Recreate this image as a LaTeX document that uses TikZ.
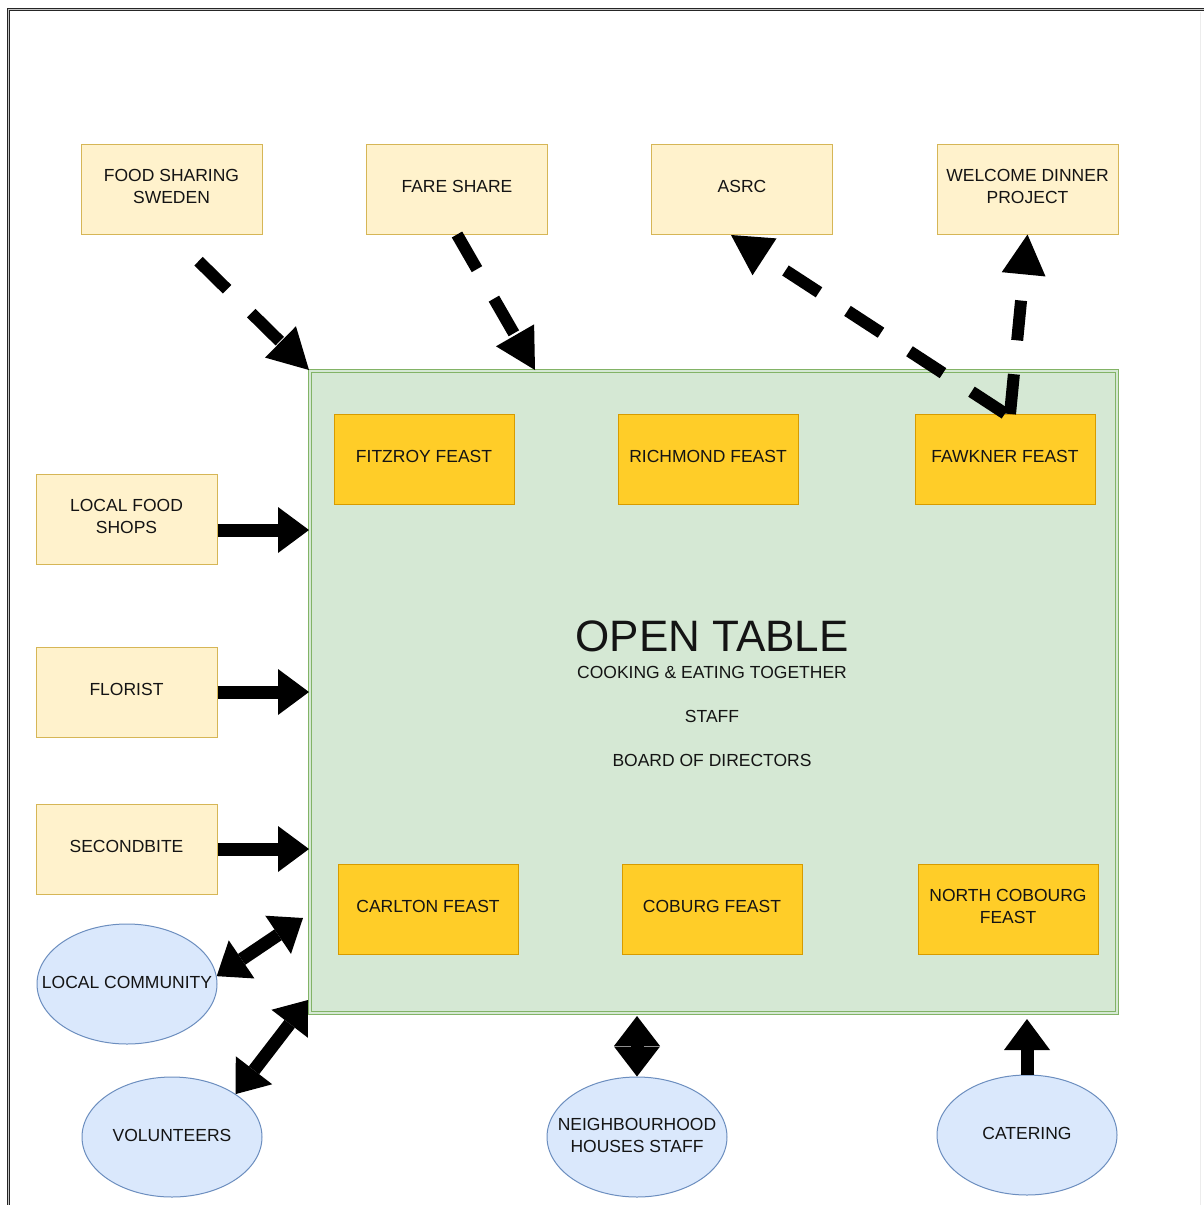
\documentclass[tikz,border=0pt]{standalone}
\usepackage{fontspec}
\setmainfont{Liberation Sans}
\usetikzlibrary{arrows.meta,shapes.geometric}
\definecolor{ylfill}{HTML}{FFF2CC}
\definecolor{yldraw}{HTML}{D6B656}
\definecolor{orfill}{HTML}{FFCD28}
\definecolor{ordraw}{HTML}{D79B00}
\definecolor{grfill}{HTML}{D5E8D4}
\definecolor{grdraw}{HTML}{82B366}
\definecolor{blfill}{HTML}{DAE8FC}
\definecolor{bldraw}{HTML}{6C8EBF}
\definecolor{txt}{HTML}{141414}
\begin{document}
\begin{tikzpicture}[x=1pt,y=-1pt,
  every node/.style={font=\fontsize{17.5}{22}\selectfont, text=txt, align=center},
  ybox/.style={draw=yldraw, fill=ylfill, minimum width=181pt, minimum height=90pt, inner sep=0pt, line width=1pt, text depth=5pt},
  obox/.style={draw=ordraw, fill=orfill, minimum width=180pt, minimum height=90pt, inner sep=0pt, line width=1pt, text depth=5pt},
  ell/.style={ellipse, draw=bldraw, fill=blfill, minimum width=180pt, minimum height=120pt, inner sep=0pt, line width=1pt},
  elltext/.style={text depth=4pt, inner sep=0pt},
  bigbox/.style={draw=grdraw, fill=grfill, double=grfill, double distance=2pt, line width=1pt, minimum width=807pt, minimum height=642pt, inner sep=0pt},
  dasharrow/.style={line width=12pt, black, dash pattern=on 40pt off 34pt, -{Triangle[length=40pt,width=44pt,line width=0pt]}},
  solarrow/.style={line width=13pt, black, -{Triangle[length=31pt,width=46pt,line width=0pt]}},
  dblarrow/.style={line width=13pt, black, {Triangle[length=30pt,width=46pt,line width=0pt]}-{Triangle[length=30pt,width=46pt,line width=0pt]}},
]
\useasboundingbox (0,0) rectangle (1203,1205);
\fill[white] (0,0) rectangle (1203,1205);
% frame
\draw[black!85, line width=0.8pt, double=gray!45, double distance=1.6pt] (8.5,1215) -- (8.5,9.5) -- (1215,9.5);
\draw[gray!15, line width=0.8pt] (1200,12) -- (1200,1205);

% outer boxes
\node[ybox] (fss) at (171.5,189) {FOOD SHARING\\SWEDEN};
\node[ybox] (fare) at (457,189) {FARE SHARE};
\node[ybox] (asrc) at (742,189) {ASRC};
\node[ybox] (wdp) at (1027.5,189) {WELCOME DINNER\\PROJECT};
\node[ybox] (lfs) at (126.5,519) {LOCAL FOOD\\SHOPS};
\node[ybox] (flo) at (126.5,692) {FLORIST};
\node[ybox] (sb) at (126.5,849) {SECONDBITE};

\node[ell, label={[elltext]center:LOCAL COMMUNITY}] (lc) at (127,984) {};
\node[ell, label={[elltext]center:VOLUNTEERS}] (vol) at (172,1137) {};
\node[ell, label={[elltext]center:{NEIGHBOURHOOD\\HOUSES STAFF}}] (nh) at (637,1137) {};
\node[ell, label={[elltext]center:CATERING}] (cat) at (1027,1135) {};

% big box
\node[bigbox] (big) at (713,691.5) {};

\node[obox] (fitz) at (424,459) {FITZROY FEAST};
\node[obox] (rich) at (708,459) {RICHMOND FEAST};
\node[obox] (fawk) at (1005,459) {FAWKNER FEAST};
\node[obox] (carl) at (428,909) {CARLTON FEAST};
\node[obox] (cob) at (712,909) {COBURG FEAST};
\node[obox] (ncob) at (1008,909) {NORTH COBOURG\\FEAST};

\node[font=\fontsize{44}{50}\selectfont, inner sep=0pt] (t1) at (712,636) {OPEN TABLE};
\node[inner sep=0pt] (t2) at (712,672) {COOKING \& EATING TOGETHER};
\node[inner sep=0pt] (t3) at (712,716) {STAFF};
\node[inner sep=0pt] (t4) at (712,760) {BOARD OF DIRECTORS};

% coordinates for free ends
\coordinate (fareend) at (535,370);
\coordinate (fawkb) at (1010,414);
\coordinate (asrcend) at (731,235);
\coordinate (lfsa) at (217.5,530);
\coordinate (lcend) at (303,918);
\coordinate (volend) at (308,1000);
\coordinate (nhend) at (637,1016);
\coordinate (catend) at (1027,1019);

% dashed arrows
\draw[dasharrow, shorten <=38pt] (fss.south) -- (big.north west);
\draw[dasharrow] (fare.south) -- (fareend);
\draw[dasharrow] (fawk.north) -- (asrcend);
\draw[dasharrow] (fawkb) -- (wdp.south);

% solid arrows
\draw[solarrow] (lfsa) -- (lfsa -| big.west);
\draw[solarrow] (flo.east) -- (flo.east -| big.west);
\draw[solarrow] (sb.east) -- (sb.east -| big.west);
\draw[solarrow] (cat.north) -- (catend);
\draw[dblarrow] (lc.5) -- (lcend);
\draw[dblarrow] (vol.34) -- (volend);
\draw[dblarrow] (nh.north) -- (nhend);
\end{tikzpicture}
\end{document}
